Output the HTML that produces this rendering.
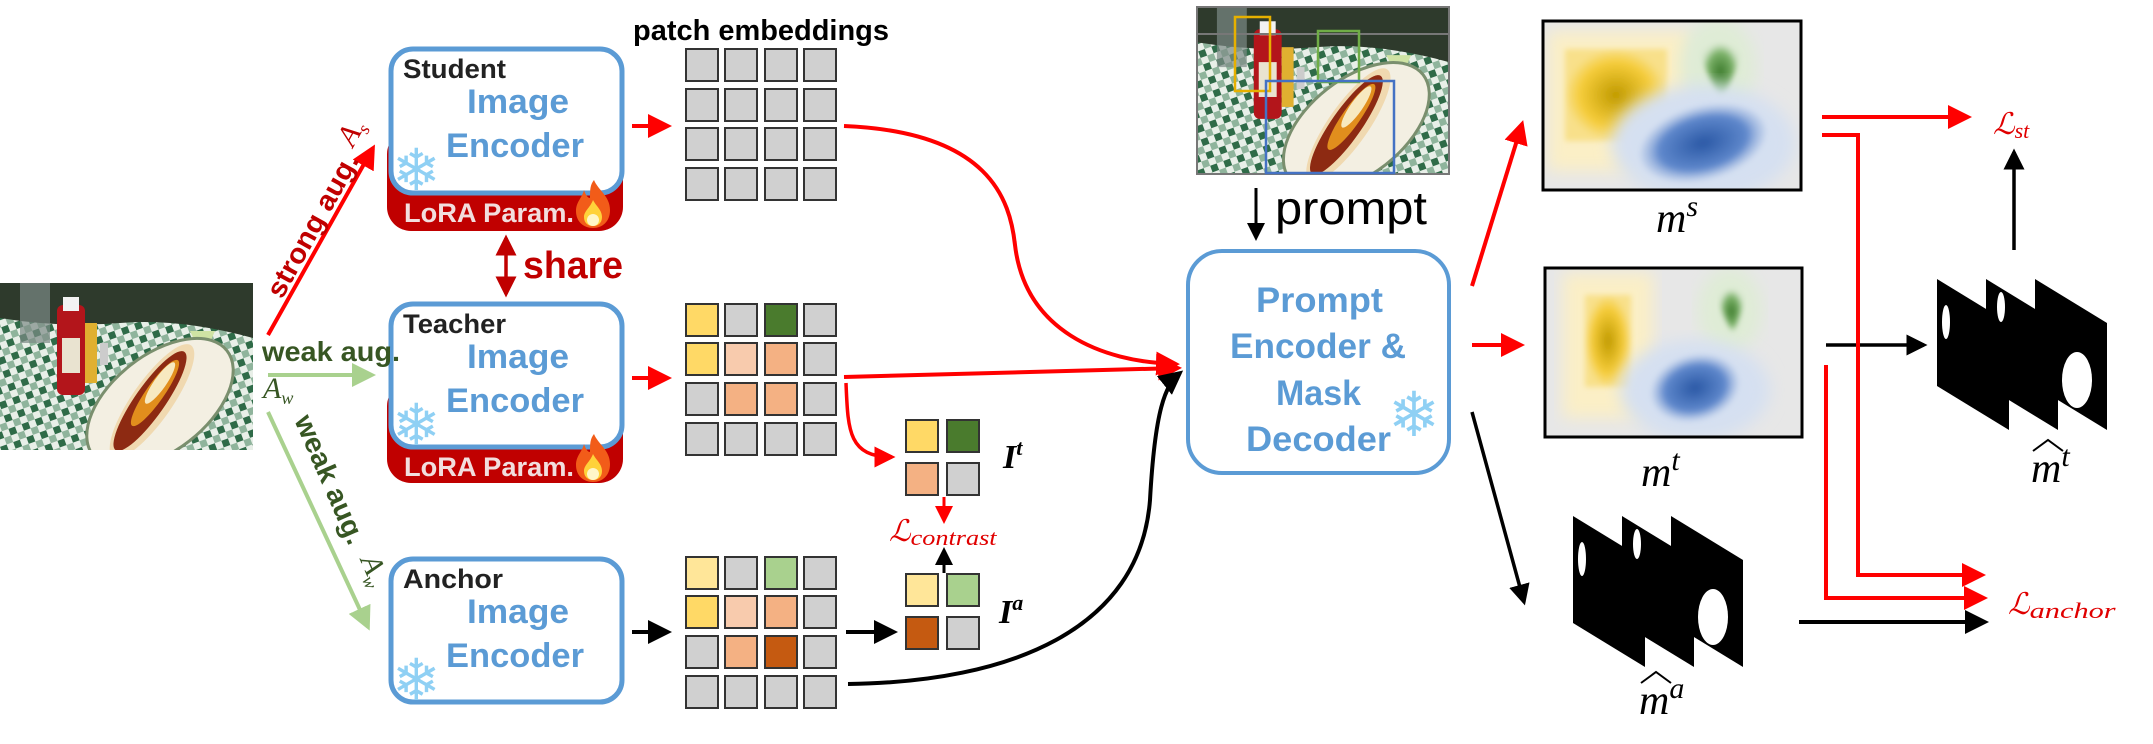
<!DOCTYPE html>
<html><head><meta charset="utf-8"><style>
html,body{margin:0;padding:0;background:#fff;}
svg{display:block;}
text{font-family:"Liberation Sans",sans-serif;}
.m{font-family:"Liberation Serif",serif;font-style:italic;}
</style></head><body>
<svg width="2153" height="744" viewBox="0 0 2153 744" xmlns="http://www.w3.org/2000/svg">
<defs>
<marker id="ar" markerWidth="6" markerHeight="6" refX="5" refY="3" orient="auto" markerUnits="strokeWidth"><path d="M0,0 L6,3 L0,6 z" fill="#ff0000"/></marker>
<marker id="ak" markerWidth="6" markerHeight="6" refX="5" refY="3" orient="auto" markerUnits="strokeWidth"><path d="M0,0 L6,3 L0,6 z" fill="#000"/></marker>
<marker id="ag" markerWidth="6" markerHeight="6" refX="5" refY="3" orient="auto" markerUnits="strokeWidth"><path d="M0,0 L6,3 L0,6 z" fill="#a9d18e"/></marker>
<marker id="ad" markerWidth="6" markerHeight="6" refX="5" refY="3" orient="auto-start-reverse" markerUnits="strokeWidth"><path d="M0,0 L6,3 L0,6 z" fill="#c00000"/></marker>
<pattern id="chk" width="14" height="14" patternUnits="userSpaceOnUse" patternTransform="rotate(-20)">
<rect width="14" height="14" fill="#e8efe8"/><rect width="7" height="7" fill="#2f6b48"/><rect x="7" y="7" width="7" height="7" fill="#8fb49c"/></pattern>
<symbol id="photo" viewBox="0 0 253 167" width="253" height="167">
<rect width="253" height="167" fill="url(#chk)"/>
<path d="M0,0 H253 V55 Q180,35 120,40 Q60,45 0,35 Z" fill="#2e3a2c"/>
<rect x="20" y="0" width="30" height="60" fill="#7c8a86" opacity="0.7"/>
<rect x="57" y="22" width="28" height="90" rx="6" fill="#b3151b"/>
<rect x="63" y="14" width="16" height="14" fill="#f2f2f2"/>
<rect x="62" y="55" width="18" height="35" fill="#e9e3d0"/>
<rect x="85" y="40" width="12" height="60" fill="#e0b030"/>
<rect x="100" y="60" width="8" height="22" fill="#ccc"/>
<path d="M190,48 L215,48 L203,75 Z" fill="#cfe3a4"/><rect x="201" y="75" width="3" height="25" fill="#ddd"/>
<ellipse cx="160" cy="120" rx="85" ry="48" transform="rotate(-38 160 120)" fill="#f3efe2" stroke="#7a8f6e" stroke-width="3"/>
<ellipse cx="152" cy="118" rx="68" ry="20" transform="rotate(-55 152 118)" fill="#f0d9b0"/>
<ellipse cx="150" cy="118" rx="60" ry="15" transform="rotate(-55 150 118)" fill="#8d2a12"/>
<ellipse cx="155" cy="110" rx="40" ry="9" transform="rotate(-55 155 110)" fill="#f0a020" opacity="0.85"/>
<ellipse cx="160" cy="100" rx="25" ry="6" transform="rotate(-55 160 100)" fill="#f7e9c0"/>
</symbol>
<radialGradient id="gy"><stop offset="0" stop-color="#c09a00"/><stop offset="0.7" stop-color="#f5cc3a"/><stop offset="1" stop-color="#f8e08a"/></radialGradient>
<radialGradient id="gb"><stop offset="0" stop-color="#2a58a5"/><stop offset="0.7" stop-color="#5f88cc"/><stop offset="1" stop-color="#b7c9e8" stop-opacity="0.5"/></radialGradient>
<radialGradient id="gg"><stop offset="0" stop-color="#3c7a2c"/><stop offset="0.7" stop-color="#7fb56c"/><stop offset="1" stop-color="#cfe3c6" stop-opacity="0.5"/></radialGradient>
<filter id="bl"><feGaussianBlur stdDeviation="3"/></filter>
<filter id="bl2"><feGaussianBlur stdDeviation="8"/></filter>
<g id="mask">
<polygon points="0,0 72,44 72,151 0,107" fill="#000"/>
<ellipse cx="9" cy="43" rx="4" ry="17" fill="#fff"/>
<polygon points="49,0 121,44 121,151 49,107" fill="#000"/>
<ellipse cx="64" cy="28" rx="4" ry="15" fill="#fff"/>
<polygon points="98,0 170,44 170,151 98,107" fill="#000"/>
<ellipse cx="140" cy="101" rx="15" ry="28" fill="#fff"/>
</g>
<g id="flame">
<path d="M18,0 C22,10 34,16 34,30 C34,42 26,48 17,48 C8,48 0,42 0,31 C0,22 6,18 8,10 C10,16 12,18 14,18 C14,10 14,5 18,0 Z" fill="#f25c19"/>
<path d="M17,20 C20,26 26,30 26,37 C26,43 22,46 17,46 C12,46 8,43 8,37 C8,31 14,28 17,20 Z" fill="#ffd23a"/>
<ellipse cx="17" cy="40" rx="6" ry="6" fill="#fff6c8"/>
</g>
</defs>

<use href="#photo" x="0" y="283" width="253" height="167"/>

<!-- Student -->
<rect x="387" y="130" width="236" height="101" rx="24" fill="#c00000"/>
<rect x="391" y="49" width="231" height="144" rx="22" fill="#fff" stroke="#5b9bd5" stroke-width="5"/>
<text x="403" y="78" font-size="27" font-weight="bold" fill="#222" textLength="103" lengthAdjust="spacingAndGlyphs">Student</text>
<text x="467" y="113" font-size="34" font-weight="bold" fill="#5b9bd5" textLength="102" lengthAdjust="spacingAndGlyphs">Image</text>
<text x="446" y="157" font-size="34" font-weight="bold" fill="#5b9bd5" textLength="138" lengthAdjust="spacingAndGlyphs">Encoder</text>
<text x="392" y="190" font-size="58" fill="#8fd0f4">❄</text>
<text x="404" y="222" font-size="27" font-weight="bold" fill="#f2dede" textLength="170" lengthAdjust="spacingAndGlyphs">LoRA Param.</text>
<use href="#flame" x="576" y="180"/>

<line x1="506" y1="238" x2="506" y2="294" stroke="#c00000" stroke-width="3.5" marker-start="url(#ad)" marker-end="url(#ad)"/>
<text x="523" y="278" font-size="38" font-weight="bold" fill="#c00000" textLength="100" lengthAdjust="spacingAndGlyphs">share</text>

<!-- Teacher -->
<rect x="387" y="382" width="236" height="101" rx="24" fill="#c00000"/>
<rect x="391" y="304" width="231" height="143" rx="22" fill="#fff" stroke="#5b9bd5" stroke-width="5"/>
<text x="403" y="333" font-size="27" font-weight="bold" fill="#222" textLength="103" lengthAdjust="spacingAndGlyphs">Teacher</text>
<text x="467" y="368" font-size="34" font-weight="bold" fill="#5b9bd5" textLength="102" lengthAdjust="spacingAndGlyphs">Image</text>
<text x="446" y="412" font-size="34" font-weight="bold" fill="#5b9bd5" textLength="138" lengthAdjust="spacingAndGlyphs">Encoder</text>
<text x="392" y="445" font-size="58" fill="#8fd0f4">❄</text>
<text x="404" y="476" font-size="27" font-weight="bold" fill="#f2dede" textLength="170" lengthAdjust="spacingAndGlyphs">LoRA Param.</text>
<use href="#flame" x="576" y="434"/>

<!-- Anchor -->
<rect x="391" y="559" width="231" height="143" rx="22" fill="#fff" stroke="#5b9bd5" stroke-width="5"/>
<text x="403" y="588" font-size="27" font-weight="bold" fill="#222" textLength="100" lengthAdjust="spacingAndGlyphs">Anchor</text>
<text x="467" y="623" font-size="34" font-weight="bold" fill="#5b9bd5" textLength="102" lengthAdjust="spacingAndGlyphs">Image</text>
<text x="446" y="667" font-size="34" font-weight="bold" fill="#5b9bd5" textLength="138" lengthAdjust="spacingAndGlyphs">Encoder</text>
<text x="392" y="700" font-size="58" fill="#8fd0f4">❄</text>

<!-- aug arrows -->
<line x1="268" y1="335" x2="373" y2="148" stroke="#ff0000" stroke-width="4" marker-end="url(#ar)"/>
<text x="0" y="0" transform="translate(282,300) rotate(-61)" font-size="28" font-weight="bold" fill="#c00000" textLength="160" lengthAdjust="spacingAndGlyphs">strong aug.</text>
<text x="0" y="0" class="m" transform="translate(353,148) rotate(-61)" font-size="30" fill="#c00000">A<tspan font-size="18" dy="6">s</tspan></text>
<line x1="268" y1="375" x2="372" y2="375" stroke="#a9d18e" stroke-width="4" marker-end="url(#ag)"/>
<text x="262" y="361" font-size="28" font-weight="bold" fill="#375623" textLength="138" lengthAdjust="spacingAndGlyphs">weak aug.</text>
<text x="263" y="398" class="m" font-size="30" fill="#375623">A<tspan font-size="18" dy="6">w</tspan></text>
<line x1="268" y1="412" x2="368" y2="627" stroke="#a9d18e" stroke-width="4" marker-end="url(#ag)"/>
<text x="0" y="0" transform="translate(294,420) rotate(66.5)" font-size="28" font-weight="bold" fill="#375623" textLength="138" lengthAdjust="spacingAndGlyphs">weak aug.</text>
<text x="0" y="0" class="m" transform="translate(360,560) rotate(66.5)" font-size="30" fill="#375623">A<tspan font-size="18" dy="6">w</tspan></text>

<line x1="632" y1="126" x2="668" y2="126" stroke="#ff0000" stroke-width="4" marker-end="url(#ar)"/>
<line x1="632" y1="378" x2="668" y2="378" stroke="#ff0000" stroke-width="4" marker-end="url(#ar)"/>
<line x1="632" y1="632" x2="668" y2="632" stroke="#000" stroke-width="4" marker-end="url(#ak)"/>

<text x="633" y="40" font-size="29" font-weight="bold" fill="#000" textLength="256" lengthAdjust="spacingAndGlyphs">patch embeddings</text>

<g stroke="#333" stroke-width="2">
<g fill="#d0d0d0">
<rect x="686" y="49" width="32" height="32"/><rect x="725" y="49" width="32" height="32"/><rect x="765" y="49" width="32" height="32"/><rect x="804" y="49" width="32" height="32"/>
<rect x="686" y="89" width="32" height="32"/><rect x="725" y="89" width="32" height="32"/><rect x="765" y="89" width="32" height="32"/><rect x="804" y="89" width="32" height="32"/>
<rect x="686" y="128" width="32" height="32"/><rect x="725" y="128" width="32" height="32"/><rect x="765" y="128" width="32" height="32"/><rect x="804" y="128" width="32" height="32"/>
<rect x="686" y="168" width="32" height="32"/><rect x="725" y="168" width="32" height="32"/><rect x="765" y="168" width="32" height="32"/><rect x="804" y="168" width="32" height="32"/>
</g>
<rect x="686" y="304" width="32" height="32" fill="#ffd966"/><rect x="725" y="304" width="32" height="32" fill="#d0d0d0"/><rect x="765" y="304" width="32" height="32" fill="#4a7b2d"/><rect x="804" y="304" width="32" height="32" fill="#d0d0d0"/>
<rect x="686" y="343" width="32" height="32" fill="#ffd966"/><rect x="725" y="343" width="32" height="32" fill="#f8cbad"/><rect x="765" y="343" width="32" height="32" fill="#f4b183"/><rect x="804" y="343" width="32" height="32" fill="#d0d0d0"/>
<rect x="686" y="383" width="32" height="32" fill="#d0d0d0"/><rect x="725" y="383" width="32" height="32" fill="#f4b183"/><rect x="765" y="383" width="32" height="32" fill="#f4b183"/><rect x="804" y="383" width="32" height="32" fill="#d0d0d0"/>
<rect x="686" y="423" width="32" height="32" fill="#d0d0d0"/><rect x="725" y="423" width="32" height="32" fill="#d0d0d0"/><rect x="765" y="423" width="32" height="32" fill="#d0d0d0"/><rect x="804" y="423" width="32" height="32" fill="#d0d0d0"/>
<rect x="686" y="557" width="32" height="32" fill="#ffe699"/><rect x="725" y="557" width="32" height="32" fill="#d0d0d0"/><rect x="765" y="557" width="32" height="32" fill="#a9d18e"/><rect x="804" y="557" width="32" height="32" fill="#d0d0d0"/>
<rect x="686" y="596" width="32" height="32" fill="#ffd966"/><rect x="725" y="596" width="32" height="32" fill="#f8cbad"/><rect x="765" y="596" width="32" height="32" fill="#f4b183"/><rect x="804" y="596" width="32" height="32" fill="#d0d0d0"/>
<rect x="686" y="636" width="32" height="32" fill="#d0d0d0"/><rect x="725" y="636" width="32" height="32" fill="#f4b183"/><rect x="765" y="636" width="32" height="32" fill="#c55a11"/><rect x="804" y="636" width="32" height="32" fill="#d0d0d0"/>
<rect x="686" y="676" width="32" height="32" fill="#d0d0d0"/><rect x="725" y="676" width="32" height="32" fill="#d0d0d0"/><rect x="765" y="676" width="32" height="32" fill="#d0d0d0"/><rect x="804" y="676" width="32" height="32" fill="#d0d0d0"/>
<rect x="906" y="420" width="32" height="32" fill="#ffd966"/><rect x="947" y="420" width="32" height="32" fill="#4a7b2d"/>
<rect x="906" y="463" width="32" height="32" fill="#f4b183"/><rect x="947" y="463" width="32" height="32" fill="#d0d0d0"/>
<rect x="906" y="574" width="32" height="32" fill="#ffe699"/><rect x="947" y="574" width="32" height="32" fill="#a9d18e"/>
<rect x="906" y="617" width="32" height="32" fill="#c55a11"/><rect x="947" y="617" width="32" height="32" fill="#d0d0d0"/>
</g>
<text x="1003" y="468" class="m" font-size="34" font-weight="bold" fill="#000">I<tspan font-size="22" dy="-13">t</tspan></text>
<text x="999" y="623" class="m" font-size="34" font-weight="bold" fill="#000">I<tspan font-size="22" dy="-13">a</tspan></text>
<line x1="944" y1="497" x2="944" y2="521" stroke="#ff0000" stroke-width="3" marker-end="url(#ar)"/>
<text x="889" y="541" font-size="30" fill="#e00000" font-family="DejaVu Serif,serif" font-style="italic">ℒ<tspan font-size="22" dy="4" class="m" textLength="86" lengthAdjust="spacingAndGlyphs">contrast</tspan></text>
<line x1="944" y1="573" x2="944" y2="550" stroke="#000" stroke-width="3" marker-end="url(#ak)"/>
<line x1="846" y1="632" x2="894" y2="632" stroke="#000" stroke-width="4" marker-end="url(#ak)"/>

<path d="M844,126 C990,132 1010,200 1015,245 C1025,330 1100,362 1176,364" fill="none" stroke="#ff0000" stroke-width="4" marker-end="url(#ar)"/>
<path d="M844,377 L1178,368" fill="none" stroke="#ff0000" stroke-width="4" marker-end="url(#ar)"/>
<path d="M846,383 C848,430 848,457 892,457" fill="none" stroke="#ff0000" stroke-width="3.5" marker-end="url(#ar)"/>
<path d="M848,684 C1010,682 1140,630 1150,500 C1155,410 1165,385 1180,373" fill="none" stroke="#000" stroke-width="4" marker-end="url(#ak)"/>

<use href="#photo" x="1197" y="7" width="252" height="167"/>
<rect x="1197" y="7" width="252" height="167" fill="none" stroke="#777" stroke-width="2"/>
<line x1="1197" y1="34" x2="1449" y2="34" stroke="#777" stroke-width="2"/>
<rect x="1235" y="17" width="35" height="74" fill="none" stroke="#e6b000" stroke-width="2.5"/>
<rect x="1318" y="31" width="41" height="51" fill="none" stroke="#70ad47" stroke-width="2.5"/>
<rect x="1266" y="81" width="128" height="92" fill="none" stroke="#4472c4" stroke-width="2.5"/>

<line x1="1256" y1="188" x2="1256" y2="238" stroke="#000" stroke-width="3" marker-end="url(#ak)"/>
<text x="1275" y="224" font-size="46" fill="#000" textLength="152" lengthAdjust="spacingAndGlyphs">prompt</text>

<rect x="1188" y="251" width="261" height="222" rx="34" fill="#fff" stroke="#5b9bd5" stroke-width="4"/>
<g font-size="35" font-weight="bold" fill="#5b9bd5">
<text x="1256" y="312" textLength="127" lengthAdjust="spacingAndGlyphs">Prompt</text>
<text x="1230" y="358" textLength="176" lengthAdjust="spacingAndGlyphs">Encoder &amp;</text>
<text x="1276" y="405" textLength="85" lengthAdjust="spacingAndGlyphs">Mask</text>
<text x="1246" y="451" textLength="145" lengthAdjust="spacingAndGlyphs">Decoder</text>
</g>
<text x="1388" y="436" font-size="62" fill="#8fd0f4">❄</text>

<line x1="1472" y1="286" x2="1522" y2="124" stroke="#ff0000" stroke-width="4" marker-end="url(#ar)"/>
<line x1="1472" y1="345" x2="1521" y2="345" stroke="#ff0000" stroke-width="4" marker-end="url(#ar)"/>
<line x1="1472" y1="412" x2="1524" y2="602" stroke="#000" stroke-width="3.5" marker-end="url(#ak)"/>

<svg x="1543" y="21" width="258" height="169" overflow="hidden">
<rect width="258" height="169" fill="#e7e7e7"/>
<rect x="5" y="10" width="145" height="140" fill="#fbefc6" filter="url(#bl2)"/>
<rect x="22" y="28" width="102" height="92" fill="url(#gy)" filter="url(#bl)"/>
<ellipse cx="175" cy="45" rx="38" ry="48" fill="#dfecd6" filter="url(#bl2)"/>
<path d="M158,33 Q175,12 197,33 Q192,55 178,78 Q164,55 158,33Z" fill="url(#gg)" filter="url(#bl)"/>
<ellipse cx="160" cy="122" rx="92" ry="58" fill="#d5e0f1" filter="url(#bl2)"/>
<ellipse cx="160" cy="122" rx="64" ry="36" transform="rotate(-15 160 122)" fill="url(#gb)" filter="url(#bl)"/>
</svg>
<rect x="1543" y="21" width="258" height="169" fill="none" stroke="#000" stroke-width="3"/>
<text x="1656" y="232" class="m" font-size="42">m<tspan font-size="30" dy="-16">s</tspan></text>

<svg x="1545" y="268" width="257" height="169" overflow="hidden">
<rect width="257" height="169" fill="#e7e7e7"/>
<rect x="18" y="5" width="90" height="145" fill="#fbefc6" filter="url(#bl2)"/>
<rect x="40" y="27" width="46" height="92" fill="url(#gy)" filter="url(#bl)"/>
<ellipse cx="185" cy="42" rx="32" ry="42" fill="#dfecd6" filter="url(#bl2)"/>
<path d="M174,30 Q186,13 199,30 Q196,47 188,65 Q177,47 174,30Z" fill="url(#gg)" filter="url(#bl)"/>
<ellipse cx="150" cy="122" rx="75" ry="50" fill="#d5e0f1" filter="url(#bl2)"/>
<ellipse cx="150" cy="120" rx="44" ry="32" transform="rotate(-15 150 120)" fill="url(#gb)" filter="url(#bl)"/>
</svg>
<rect x="1545" y="268" width="257" height="169" fill="none" stroke="#000" stroke-width="3"/>
<text x="1641" y="486" class="m" font-size="42">m<tspan font-size="30" dy="-16">t</tspan></text>

<use href="#mask" x="1573" y="516"/>
<use href="#mask" x="1937" y="279"/>
<text x="1639" y="714" class="m" font-size="42">m<tspan font-size="30" dy="-16">a</tspan></text>
<path d="M1641,683 L1656,672 L1671,683" fill="none" stroke="#000" stroke-width="2"/>
<text x="2031" y="482" class="m" font-size="42">m<tspan font-size="30" dy="-16">t</tspan></text>
<path d="M2033,451 L2048,440 L2063,451" fill="none" stroke="#000" stroke-width="2"/>

<line x1="1826" y1="345" x2="1924" y2="345" stroke="#000" stroke-width="3.5" marker-end="url(#ak)"/>
<line x1="2014" y1="250" x2="2014" y2="152" stroke="#000" stroke-width="3.5" marker-end="url(#ak)"/>

<line x1="1822" y1="117" x2="1968" y2="117" stroke="#ff0000" stroke-width="4" marker-end="url(#ar)"/>
<polyline points="1822,135 1858,135 1858,575 1982,575" fill="none" stroke="#ff0000" stroke-width="4" marker-end="url(#ar)"/>
<polyline points="1826,365 1826,598 1984,598" fill="none" stroke="#ff0000" stroke-width="4" marker-end="url(#ar)"/>
<line x1="1799" y1="622" x2="1985" y2="622" stroke="#000" stroke-width="4" marker-end="url(#ak)"/>

<text x="1993" y="134" font-size="30" fill="#e00000" font-family="DejaVu Serif,serif" font-style="italic">ℒ<tspan font-size="22" dy="4" class="m">st</tspan></text>
<text x="2008" y="614" font-size="30" fill="#e00000" font-family="DejaVu Serif,serif" font-style="italic">ℒ<tspan font-size="22" dy="4" class="m" textLength="86" lengthAdjust="spacingAndGlyphs">anchor</tspan></text>
</svg>
</body></html>
